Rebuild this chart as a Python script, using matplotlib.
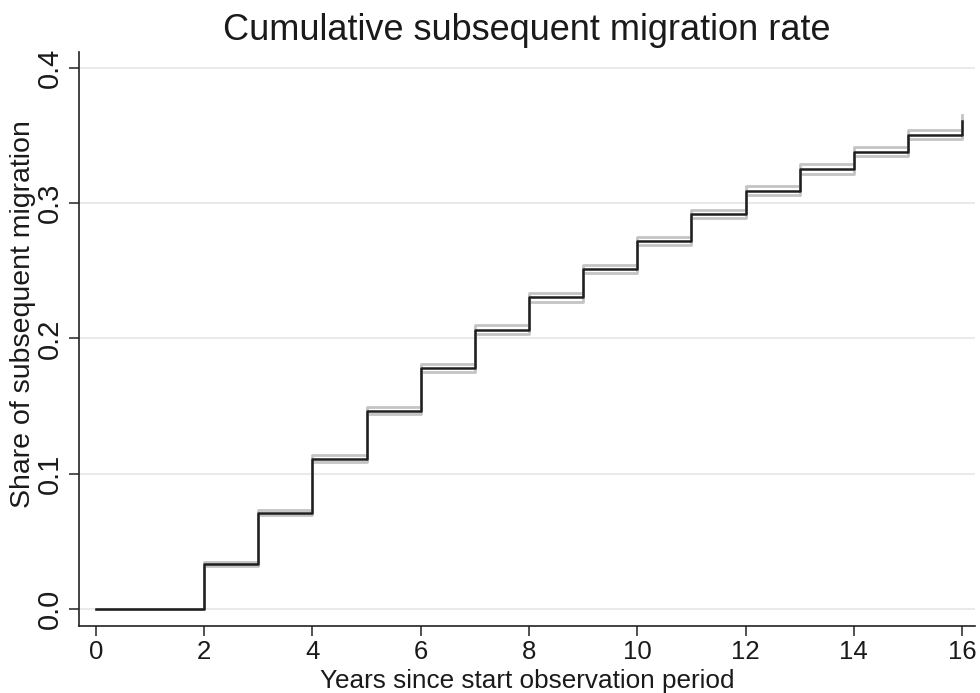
import matplotlib
matplotlib.use("Agg")
import matplotlib.pyplot as plt

years = [0, 1, 2, 3, 4, 5, 6, 7, 8, 9, 10, 11, 12, 13, 14, 15, 16]
share = [0.0, 0.0, 0.0333, 0.0712, 0.1110, 0.1466, 0.1780, 0.2066, 0.2303,
         0.2512, 0.2721, 0.2921, 0.3093, 0.3253, 0.3381, 0.3508, 0.3610]
ci_lower = [0.0, 0.0, 0.0318, 0.0693, 0.1085, 0.1439, 0.1752, 0.2036, 0.2273,
            0.2482, 0.2690, 0.2890, 0.3061, 0.3219, 0.3346, 0.3473, 0.3568]
ci_upper = [0.0, 0.0, 0.0348, 0.0731, 0.1135, 0.1493, 0.1808, 0.2096, 0.2333,
            0.2542, 0.2752, 0.2952, 0.3125, 0.3287, 0.3416, 0.3543, 0.3652]

xticks = [0, 2, 4, 6, 8, 10, 12, 14, 16]
yticks = [0.0, 0.1, 0.2, 0.3, 0.4]

plt.rcParams['font.family'] = ['Liberation Sans', 'DejaVu Sans']

fig = plt.figure(figsize=(9.8, 6.93), dpi=100)
ax = fig.add_axes([79/980, 1 - 626/693, (975 - 79)/980, (626 - 52)/693])

for yt in yticks:
    ax.axhline(yt, color='#eaeaea', lw=1.5, zorder=0)

ax.step(years, ci_lower, where='post', color='#c4c4c4', lw=2.0, zorder=2)
ax.step(years, ci_upper, where='post', color='#c4c4c4', lw=2.0, zorder=2)
ax.step(years, share, where='post', color='#1f1f1f', lw=1.8, zorder=3)

ax.set_xlim(-0.314, 16.24)
ax.set_ylim(-0.0126, 0.4118)
ax.set_xticks(xticks)
ax.set_xticklabels([str(x) for x in xticks], fontsize=18.5)
ax.set_yticks(yticks)
ax.set_yticklabels([f"{y:.1f}" for y in yticks], rotation=90, va='center',
                   fontsize=21)

for s in ['top', 'right']:
    ax.spines[s].set_visible(False)
for s in ['left', 'bottom']:
    ax.spines[s].set_color('#222222')
    ax.spines[s].set_linewidth(1.2)

ax.tick_params(axis='both', direction='out', length=7, width=1.1,
               color='#222222', labelcolor='#1a1a1a')
ax.tick_params(axis='x', pad=3)
ax.tick_params(axis='y', pad=4)

ax.set_xlabel('Years since start observation period', fontsize=18.8,
              color='#1a1a1a')
ax.set_ylabel('Share of subsequent migration', fontsize=20.5,
              color='#1a1a1a')
ax.xaxis.set_label_coords(0.5, -0.075)
ax.yaxis.set_label_coords(-0.048, 0.543)
ax.set_title('Cumulative subsequent migration rate', fontsize=26,
             color='#1a1a1a', pad=9)

fig.savefig('out.png', dpi=100, facecolor='white')
